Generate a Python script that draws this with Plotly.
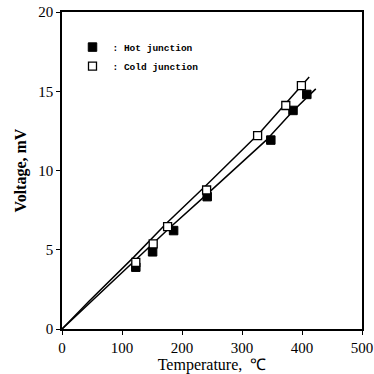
import plotly.graph_objects as go

# Data points
hot_T = [123, 151, 186, 242, 348, 385, 408]
hot_V = [3.9, 4.87, 6.21, 8.35, 11.92, 13.79, 14.8]
cold_T = [123, 152, 176, 241, 326, 373, 399]
cold_V = [4.2, 5.37, 6.46, 8.77, 12.2, 14.1, 15.36]

# Hand-drawn fit lines
cold_line_T = [0, 45, 120, 175, 240, 330, 412]
cold_line_V = [0, 1.75, 4.55, 6.7, 9.05, 12.4, 15.9]
hot_line_T = [0, 45, 120, 180, 240, 340, 385, 423]
hot_line_V = [0, 1.6, 4.25, 6.4, 8.45, 11.9, 13.75, 15.15]

x_ticks = [0, 100, 200, 300, 400, 500]
y_ticks = [0, 5, 10, 15, 20]

serif = "Liberation Serif"
mono = "Liberation Mono"

fig = go.Figure()
fig.add_trace(go.Scatter(x=cold_line_T, y=cold_line_V, mode="lines",
                         line=dict(color="black", width=1.5), showlegend=False))
fig.add_trace(go.Scatter(x=hot_line_T, y=hot_line_V, mode="lines",
                         line=dict(color="black", width=1.5), showlegend=False))
fig.add_trace(go.Scatter(x=hot_T, y=hot_V, mode="markers", name="<b>: Hot junction</b>",
                         marker=dict(symbol="square", size=8.5, color="black",
                                     line=dict(color="black", width=1))))
fig.add_trace(go.Scatter(x=cold_T, y=cold_V, mode="markers", name="<b>: Cold junction</b>",
                         marker=dict(symbol="square", size=8, color="white",
                                     line=dict(color="black", width=1.3))))

axis_common = dict(showgrid=False, zeroline=False, showline=True, linecolor="black",
                   linewidth=1.5, mirror=True, ticks="outside", ticklen=4,
                   tickcolor="black", tickwidth=1.2, automargin=False,
                   tickfont=dict(family=serif, size=15, color="black"))

fig.update_layout(
    width=374, height=374,
    margin=dict(l=62, r=12, t=12, b=45),
    paper_bgcolor="white", plot_bgcolor="white",
    xaxis=dict(range=[0, 500], tickvals=x_ticks,
               title=dict(text="Temperature,  ℃", standoff=2,
                          font=dict(family=serif, size=16, color="black")),
               **axis_common),
    yaxis=dict(range=[0, 20], tickvals=y_ticks,
               title=dict(text="<b>Voltage, mV</b>", standoff=8,
                          font=dict(family=serif, size=16, color="black")),
               **axis_common),
    legend=dict(x=0.035, y=0.935, xanchor="left", yanchor="top",
                bgcolor="rgba(0,0,0,0)", tracegroupgap=0,
                font=dict(family=mono, size=9.5, color="black"),
                itemwidth=30),
)

fig.write_html("out.html")
